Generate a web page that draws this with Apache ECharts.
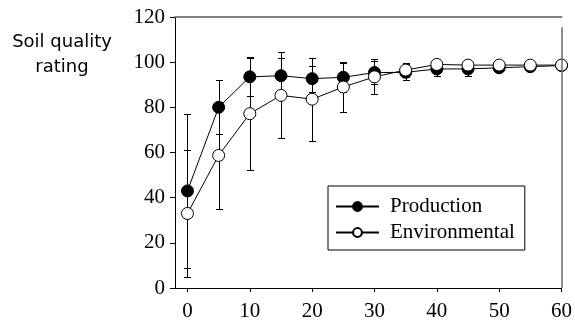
<!DOCTYPE html>
<html>
<head>
<meta charset="utf-8">
<script src="https://cdn.jsdelivr.net/npm/echarts@6/dist/echarts.min.js"></script>
<style>html,body{margin:0;padding:0;background:#fff}#c{width:575px;height:322px}</style>
</head>
<body>
<div id="c"></div>
<script>
const days = [0, 5, 10, 15, 20, 25, 30, 35, 40, 45, 50, 55, 60];
const production = [43, 80, 93.5, 94, 92.7, 93.3, 95.4, 95.5, 97, 97, 97.5, 98, 98.5];
const productionErr = [34, 12, 8.5, 8, 5.7, 6.5, 5, 3.5, 3.2, 3.2, 1.5, 1, 1];
const environmental = [33, 58.7, 77.2, 85.3, 83.6, 89, 93.5, 96.5, 99, 98.7, 98.7, 98.7, 98.7];
const environmentalErr = [28, 23.5, 25, 19, 18.3, 11, 7.7, 3, 1, 1, 1, 1, 1];
const xTicks = [0, 10, 20, 30, 40, 50, 60];
const seriesNames = ['Production', 'Environmental'];
const yTitle = 'Soil quality\nrating';

const serif = 'Liberation Serif';
const errData = [];
days.forEach((d, i) => {
  errData.push([d, production[i] - productionErr[i], production[i] + productionErr[i]]);
  errData.push([d, environmental[i] - environmentalErr[i], environmental[i] + environmentalErr[i]]);
});

function renderErr(params, api) {
  const x = api.value(0), lo = api.value(1), hi = api.value(2);
  const a = api.coord([x, lo]), b = api.coord([x, hi]);
  const px = Math.round(a[0]) + 0.5;
  const ylo = Math.round(a[1]) + 0.5, yhi = Math.round(b[1]) + 0.5;
  const w = 3.5;
  const st = {stroke: '#000', lineWidth: 1};
  return {type: 'group', children: [
    {type: 'line', shape: {x1: px, y1: ylo, x2: px, y2: yhi}, style: st},
    {type: 'line', shape: {x1: px - w, y1: ylo, x2: px + w, y2: ylo}, style: st},
    {type: 'line', shape: {x1: px - w, y1: yhi, x2: px + w, y2: yhi}, style: st}
  ]};
}

const chart = echarts.init(document.getElementById('c'), null, {renderer: 'canvas'});
chart.setOption({
  animation: false,
  backgroundColor: '#fff',
  grid: {left: 175, right: 13, top: 17, bottom: 34},
  graphic: [{
    type: 'text', x: 62, y: 54.5,
    style: {text: yTitle, font: '18px "DejaVu Sans"', fill: '#000', align: 'center', verticalAlign: 'middle', lineHeight: 25}
  }],
  legend: {
    data: seriesNames,
    orient: 'vertical',
    left: 328, top: 186,
    padding: [10, 10, 7, 7],
    itemWidth: 43, itemHeight: 11, itemGap: 5,
    borderColor: '#000', borderWidth: 1,
    textStyle: {fontFamily: serif, fontSize: 21, color: '#000', lineHeight: 21, padding: [0, 0, 0, 6]}
  },
  xAxis: [{
    type: 'value', min: -2, max: 60,
    axisLine: {onZero: false, lineStyle: {color: '#000', width: 1}},
    axisTick: {customValues: xTicks, length: 4, lineStyle: {color: '#000'}},
    axisLabel: {customValues: xTicks, margin: 13, fontFamily: serif, fontSize: 21, color: '#000'},
    splitLine: {show: false}
  }, {
    type: 'value', min: -2, max: 60, position: 'top',
    axisLine: {show: true, onZero: false, lineStyle: {color: '#808080', width: 2}},
    axisTick: {show: false}, axisLabel: {show: false}, splitLine: {show: false}
  }],
  yAxis: {
    type: 'value', min: 0, max: 120, interval: 20,
    axisLine: {show: true, onZero: false, lineStyle: {color: '#000', width: 1}},
    axisTick: {show: true, length: 5, lineStyle: {color: '#000'}},
    axisLabel: {margin: 10, fontFamily: serif, fontSize: 21, color: '#000'},
    splitLine: {show: false}
  },
  series: [{
    type: 'line', data: [], silent: true, z: 1,
    markLine: {
      silent: true, symbol: 'none', label: {show: false},
      lineStyle: {color: '#6a6a6a', width: 1.5, type: 'solid'},
      data: [[{coord: [60, 0]}, {coord: [60, 115.5]}]]
    }
  }, {
    type: 'custom', renderItem: renderErr, data: errData, z: 2, silent: true,
    encode: {x: 0, y: [1, 2]}
  }, {
    name: seriesNames[0], type: 'line', z: 3,
    data: days.map((d, i) => [d, production[i]]),
    symbol: 'circle', symbolSize: 12,
    lineStyle: {color: '#000', width: 1},
    itemStyle: {color: '#000', borderColor: '#000', borderWidth: 1}
  }, {
    name: seriesNames[1], type: 'line', z: 4,
    data: days.map((d, i) => [d, environmental[i]]),
    symbol: 'circle', symbolSize: 12,
    lineStyle: {color: '#000', width: 1},
    itemStyle: {color: '#fff', borderColor: '#000', borderWidth: 1}
  }]
});
</script>
</body>
</html>
